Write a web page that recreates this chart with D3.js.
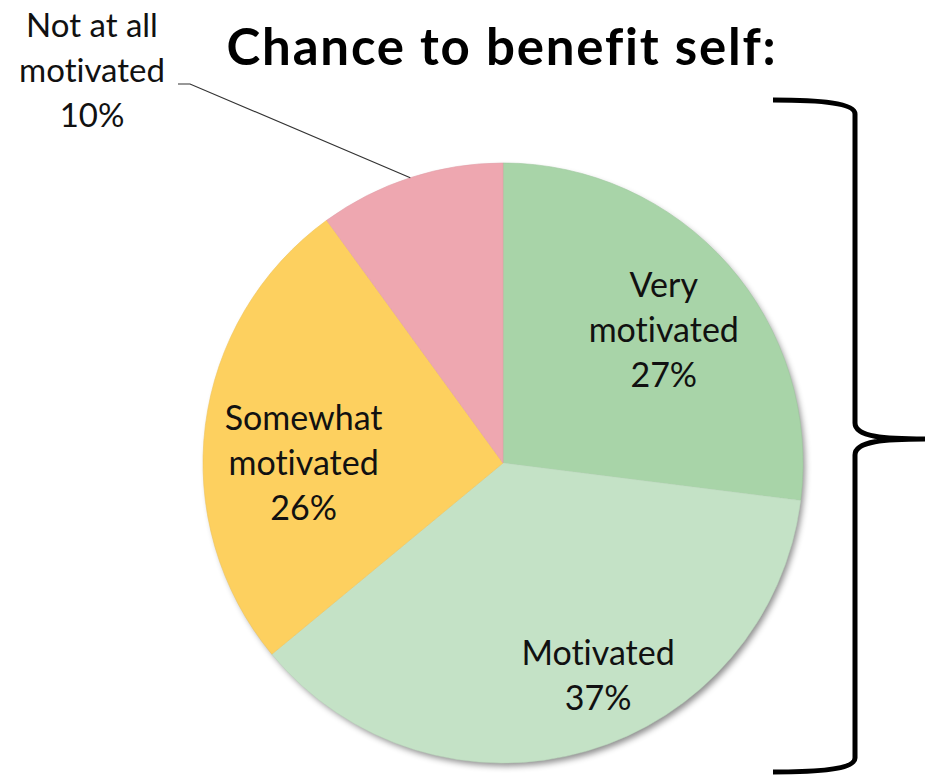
<!DOCTYPE html>
<html>
<head>
<meta charset="utf-8">
<script src="https://cdn.jsdelivr.net/npm/d3@7"></script>
<style>
  html, body { margin: 0; padding: 0; background: #fff; }
  svg { display: block; }
  text { font-family: Lato, "Open Sans", sans-serif; fill: #111; }
  text.lbl { font-variant-ligatures: none; }
</style>
</head>
<body>
<svg id="chart" width="925" height="776"></svg>
<script>
// Survey answers, clockwise from 12 o'clock
const categories = ["Very motivated", "Motivated", "Somewhat motivated", "Not at all motivated"];
const values = [27, 37, 26, 10];
const colors = ["#a8d4a8", "#c4e2c6", "#fdd05f", "#eea7b0"];
// how each label is broken into lines
const labelLines = [["Very", "motivated"], ["Motivated"], ["Somewhat", "motivated"], ["Not at all", "motivated"]];

(function draw() {
  const cx = 503, cy = 463, R = 300;

  const svg = d3.select("#chart");

  const defs = svg.append("defs");
  const shadow = defs.append("filter").attr("id", "pieShadow")
    .attr("x", "-10%").attr("y", "-10%").attr("width", "125%").attr("height", "125%");
  shadow.append("feDropShadow")
    .attr("dx", 3).attr("dy", 4).attr("stdDeviation", 3)
    .attr("flood-color", "#000").attr("flood-opacity", 0.45);

  const data = categories.map((c, i) => ({ cat: c, value: values[i], color: colors[i], lines: labelLines[i] }));

  const pie = d3.pie().sort(null).value(d => d.value).startAngle(0).endAngle(2 * Math.PI);
  const arcs = pie(data);
  const arc = d3.arc().innerRadius(0).outerRadius(R);
  const labelArc = d3.arc().innerRadius(R * 0.67).outerRadius(R * 0.67);

  const g = svg.append("g").attr("transform", `translate(${cx},${cy})`);

  // disc with its shadow, then the slices on top
  g.append("circle").attr("r", R - 1).attr("fill", "#fff").attr("filter", "url(#pieShadow)");
  g.selectAll("path.slice").data(arcs).join("path")
    .attr("class", "slice")
    .attr("d", arc)
    .attr("fill", d => d.data.color)
    .attr("stroke", d => d3.color(d.data.color).darker(0.15))
    .attr("stroke-width", 0.6);

  // in-slice labels: nudges from the arc centroid
  const nudge = [[10, 12], [39, 31], [0, 37]];
  const lineH = 45;
  const fs = 34;

  arcs.slice(0, 3).forEach((a, i) => {
    const [x, y] = labelArc.centroid(a);
    const lines = a.data.lines.concat([a.data.value + "%"]);
    const px = x + nudge[i][0], py = y + nudge[i][1];
    const t = g.append("text").attr("class", "lbl").attr("text-anchor", "middle").style("font-size", fs + "px");
    const n = lines.length;
    lines.forEach((ln, k) => {
      t.append("tspan").attr("x", px).attr("y", py + (k - (n - 1) / 2) * lineH).text(ln);
    });
  });

  // outside label with leader line for the small slice
  {
    const a = arcs[3];
    const mid = (a.startAngle + a.endAngle) / 2;
    const ex = R * Math.sin(mid), ey = -R * Math.cos(mid);
    const lx = 92 - cx, ly = 82 - cy;
    g.append("polyline")
      .attr("points", [[lx + 86, ly + 2], [lx + 98, ly + 2], [ex, ey]].map(p => p.join(",")).join(" "))
      .attr("fill", "none").attr("stroke", "#333").attr("stroke-width", 1.2);
    const lines = a.data.lines.concat([a.data.value + "%"]);
    const t = g.append("text").attr("class", "lbl").attr("text-anchor", "middle").style("font-size", (fs - 1) + "px");
    lines.forEach((ln, k) => {
      t.append("tspan").attr("x", lx).attr("y", ly + (k - 1) * lineH).text(ln);
    });
  }

  // title
  svg.append("text")
    .attr("x", 502).attr("y", 65)
    .attr("text-anchor", "middle")
    .style("font-size", "51px").style("font-weight", 700).style("fill", "#000")
    .style("letter-spacing", "1.8px")
    .text("Chance to benefit self:");

  // curly brace spanning the whole chart on the right
  const bx = 855, yTop = 100, yBot = 772, midY = 439, tipX = 925;
  const brace = d3.path();
  brace.moveTo(773, yTop);
  brace.bezierCurveTo(820, yTop, bx, yTop + 3, bx, yTop + 14);
  brace.lineTo(bx, midY - 16);
  brace.bezierCurveTo(bx, midY - 2, 885, midY, tipX, midY);
  brace.moveTo(tipX, midY);
  brace.bezierCurveTo(885, midY, bx, midY + 2, bx, midY + 16);
  brace.lineTo(bx, yBot - 14);
  brace.bezierCurveTo(bx, yBot - 3, 820, yBot, 773, yBot);
  svg.append("path").attr("d", brace.toString())
    .attr("fill", "none").attr("stroke", "#000").attr("stroke-width", 5)
    .attr("stroke-linecap", "butt").attr("stroke-linejoin", "round");
})();
</script>
</body>
</html>
